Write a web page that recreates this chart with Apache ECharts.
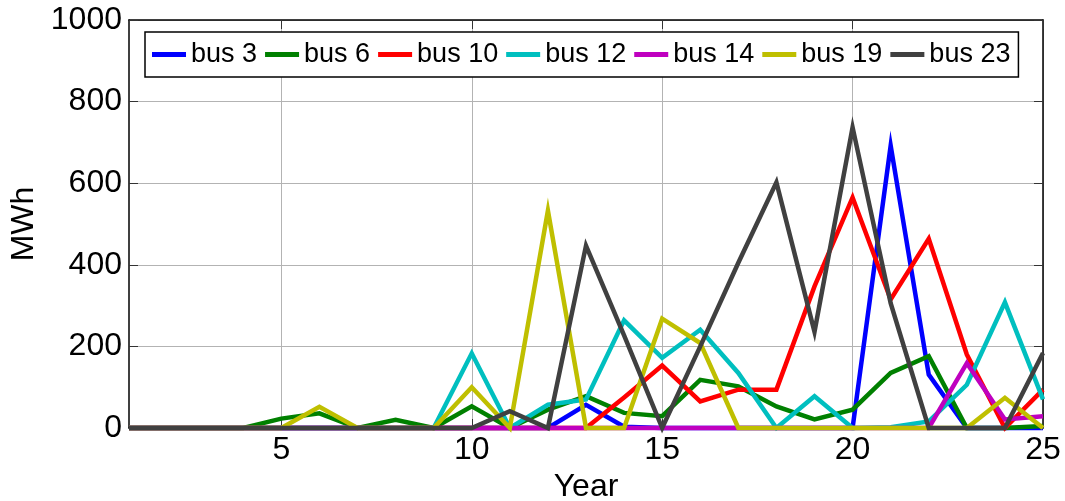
<!DOCTYPE html>
<html>
<head>
<meta charset="utf-8">
<script src="https://cdn.jsdelivr.net/npm/echarts@6/dist/echarts.min.js"></script>
<style>
html,body{margin:0;padding:0;background:#fff;}
#chart{width:1065px;height:501px;}
</style>
</head>
<body>
<div id="chart"></div>
<script>
const years = [1,2,3,4,5,6,7,8,9,10,11,12,13,14,15,16,17,18,19,20,21,22,23,24,25];
const xTicks = [5,10,15,20,25];
const bus3  = [0,0,0,0,0,0,0,0,0,0,0,0,57,3,0,0,0,0,0,0,692,131,0,0,0];
const bus6  = [0,0,0,0,23,36,0,20,0,53,0,45,78,37,29,118,102,53,21,45,135,176,0,0,5];
const bus10 = [0,0,0,0,0,0,0,0,0,0,0,0,0,75,153,65,94,94,347,565,315,464,180,0,94];
const bus12 = [0,0,0,0,0,0,0,0,0,183,0,57,70,264,172,241,135,0,78,0,2,16,106,308,70];
const bus14 = [0,0,0,0,0,0,0,0,0,0,0,0,0,0,0,0,0,0,0,0,0,0,159,21,29];
const bus19 = [0,0,0,0,0,52,0,0,0,100,0,533,0,0,268,208,0,0,0,0,0,0,0,74,0];
const bus23 = [0,0,0,0,0,0,0,0,0,0,41,0,447,227,0,200,405,602,236,737,306,0,0,0,184];

const names = ['bus 3','bus 6','bus 10','bus 12','bus 14','bus 19','bus 23'];
const values = [bus3,bus6,bus10,bus12,bus14,bus19,bus23];
const colors = ['#0000ff','#008000','#ff0000','#00bfbf','#bf00bf','#bfbf00','#404040'];

const FONT = 'Arial, "Liberation Sans", sans-serif';
const chart = echarts.init(document.getElementById('chart'));

const series = names.map((n,i)=>({
  name:n, type:'line', showSymbol:false, clip:false,
  data: years.map((y,j)=>[y, values[i][j]]),
  lineStyle:{color:colors[i], width:4.5, join:'miter'},
  itemStyle:{color:colors[i]},
  z: 3+i
}));

chart.setOption({
  animation:false,
  backgroundColor:'#fff',
  color: colors,
  grid:{left:129, right:22, top:20, bottom:73, containLabel:false, outerBoundsMode:'none'},
  legend:{
    left:145, top:32, orient:'horizontal',
    icon:'rect', itemWidth:34, itemHeight:5, itemGap:8,
    padding:[9,8,9,7],
    borderColor:'#000', borderWidth:1.5, backgroundColor:'#fff',
    textStyle:{fontFamily:FONT, fontSize:27, color:'#000'},
    data: names
  },
  xAxis:[{
    type:'value', min:1, max:25, position:'bottom',
    name:'Year', nameLocation:'middle', nameGap:38,
    nameTextStyle:{fontFamily:FONT, fontSize:32, color:'#000'},
    axisLine:{show:true, onZero:false, lineStyle:{color:'#000', width:1.5}},
    axisTick:{show:true, inside:true, length:9, customValues:xTicks, lineStyle:{color:'#333', width:1}},
    axisLabel:{show:true, customValues:xTicks, margin:6, fontFamily:FONT, fontSize:32, color:'#000'},
    splitLine:{show:true, lineStyle:{color:'#b3b3b3', width:1}}
  },{
    type:'value', min:1, max:25, position:'top',
    axisLine:{show:true, onZero:false, lineStyle:{color:'#000', width:1.5}},
    axisTick:{show:true, inside:true, length:9, customValues:xTicks, lineStyle:{color:'#333', width:1}},
    axisLabel:{show:false},
    splitLine:{show:false}
  }],
  yAxis:[{
    type:'value', min:0, max:1000, interval:200, position:'left',
    name:'MWh', nameLocation:'middle', nameGap:84, nameRotate:90,
    nameTextStyle:{fontFamily:FONT, fontSize:32, color:'#000'},
    axisLine:{show:true, lineStyle:{color:'#000', width:1.5}},
    axisTick:{show:true, inside:true, length:9, lineStyle:{color:'#333', width:1}},
    axisLabel:{show:true, margin:7, fontFamily:FONT, fontSize:32, color:'#000', formatter:(v)=>String(v)},
    splitLine:{show:true, lineStyle:{color:'#b3b3b3', width:1}}
  },{
    type:'value', min:0, max:1000, interval:200, position:'right',
    axisLine:{show:true, lineStyle:{color:'#000', width:1.5}},
    axisTick:{show:true, inside:true, length:9, lineStyle:{color:'#333', width:1}},
    axisLabel:{show:false},
    splitLine:{show:false}
  }],
  series: series
});
</script>
</body>
</html>
